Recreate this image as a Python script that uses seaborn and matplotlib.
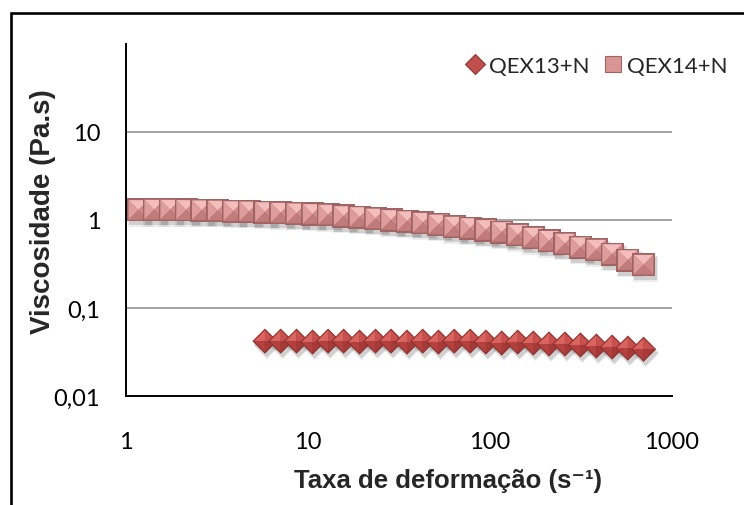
import matplotlib
matplotlib.use("Agg")
import numpy as np
import pandas as pd
import matplotlib.pyplot as plt
from matplotlib.path import Path
from matplotlib.lines import Line2D
from matplotlib.patches import Rectangle
from matplotlib.transforms import offset_copy
from matplotlib.ticker import FixedLocator, FixedFormatter, NullLocator
import seaborn as sns

# Shear rate (1/s) for each measurement step
shear_rate = [1.17, 1.43, 1.75, 2.14, 2.61, 3.19, 3.89, 4.75, 5.80, 7.08,
              8.65, 10.6, 12.9, 15.7, 19.2, 23.5, 28.6, 35.0, 42.7, 52.1,
              63.6, 77.8, 94.9, 116, 142, 173, 211, 258, 314, 384,
              469, 572, 698]

# Viscosity (Pa.s)
visc_qex14 = [1.30, 1.31, 1.31, 1.30, 1.29, 1.28, 1.26, 1.25, 1.23, 1.21,
              1.19, 1.17, 1.15, 1.11, 1.08, 1.04, 1.00, 0.97, 0.93, 0.89,
              0.84, 0.81, 0.77, 0.73, 0.68, 0.63, 0.58, 0.54, 0.49, 0.46,
              0.41, 0.35, 0.31]

shear_rate_qex13 = shear_rate[8:]
visc_qex13 = [0.042, 0.042, 0.042, 0.041, 0.042, 0.042, 0.041, 0.042, 0.042,
              0.041, 0.042, 0.041, 0.042, 0.042, 0.041, 0.040, 0.041, 0.040,
              0.039, 0.039, 0.038, 0.037, 0.036, 0.035, 0.034]

series_names = ["QEX13+N", "QEX14+N"]
x_ticks = [1, 10, 100, 1000]
x_tick_labels = ["1", "10", "100", "1000"]
y_ticks = [0.01, 0.1, 1, 10]
y_tick_labels = ["0,01", "0,1", "1", "10"]

df13 = pd.DataFrame({"rate": shear_rate_qex13, "visc": visc_qex13})
df14 = pd.DataFrame({"rate": shear_rate, "visc": visc_qex14})

sns.set_theme(style="white")
plt.rcParams["font.family"] = ["Lato", "DejaVu Sans"]

W, H = 744, 506
fig = plt.figure(figsize=(W / 100, H / 100), dpi=100)
fig.patch.set_facecolor("white")
ax = fig.add_axes([126 / W, 1 - 397 / H, 546 / W, 352 / H])
ax.set_xscale("log")
ax.set_yscale("log")
ax.set_xlim(1, 1000)
ax.set_ylim(0.01, 100)

# Marker geometry: flat outline plus four pyramid facets
def closed(verts):
    return Path(list(verts) + [verts[0]], closed=True)

square = closed([(-1, -1), (1, -1), (1, 1), (-1, 1)])
sq_facets = [closed([(-1, 1), (1, 1), (0, 0)]),      # top
             closed([(-1, -1), (-1, 1), (0, 0)]),    # left
             closed([(1, -1), (1, 1), (0, 0)]),      # right
             closed([(-1, -1), (1, -1), (0, 0)])]    # bottom
sq_shades = ["#F3BDBC", "#DE9C9B", "#CF8A89", "#C17B7A"]

diamond = closed([(1, 0), (0, 1), (-1, 0), (0, -1)])
dm_facets = [closed([(-1, 0), (0, 1), (0, 0)]),      # upper left
             closed([(0, 1), (1, 0), (0, 0)]),       # upper right
             closed([(-1, 0), (0, -1), (0, 0)]),     # lower left
             closed([(0, -1), (1, 0), (0, 0)])]      # lower right
dm_shades = ["#DA6560", "#C9504C", "#B4413E", "#A53A38"]


def draw_shadow(frame, path, size):
    for dx, dy, grow, a in [(2, -4, 1.25, 0.07), (2, -4, 1.0, 0.12)]:
        sns.scatterplot(data=frame, x="rate", y="visc", ax=ax, marker=path,
                        s=size * grow, color="black", alpha=a,
                        edgecolor="none", linewidth=0, legend=False, zorder=2,
                        transform=offset_copy(ax.transData, fig=fig, x=dx, y=dy,
                                              units="dots"))


def draw_pyramids(frame, base, facets, shades, edge, size, z0):
    side = np.sqrt(size)
    inner = (side - 2.4) ** 2
    for i in range(len(frame)):
        one = frame.iloc[[i]]
        z = z0 + i * 0.01
        sns.scatterplot(data=one, x="rate", y="visc", ax=ax, marker=base,
                        s=size, color=edge, edgecolor="none", linewidth=0,
                        legend=False, zorder=z)
        for path, col in zip(facets, shades):
            sns.scatterplot(data=one, x="rate", y="visc", ax=ax, marker=path,
                            s=inner, color=col, edgecolor="none", linewidth=0,
                            legend=False, zorder=z + 0.001)


SQ_SIZE = 275
DM_SIZE = 330
draw_shadow(df13, diamond, DM_SIZE)
draw_shadow(df14, square, SQ_SIZE)
draw_pyramids(df13, diamond, dm_facets, dm_shades, "#8E3230", DM_SIZE, 3)
draw_pyramids(df14, square, sq_facets, sq_shades, "#A06464", SQ_SIZE, 4)

ax.set_xlim(1, 1000)
ax.set_ylim(0.01, 100)

# Axes, ticks and grid
ax.xaxis.set_major_locator(FixedLocator(x_ticks))
ax.xaxis.set_major_formatter(FixedFormatter(x_tick_labels))
ax.yaxis.set_major_locator(FixedLocator(y_ticks))
ax.yaxis.set_major_formatter(FixedFormatter(y_tick_labels))
ax.xaxis.set_minor_locator(NullLocator())
ax.yaxis.set_minor_locator(NullLocator())
ax.tick_params(axis="both", which="major", direction="out", length=5.5,
               width=1.2, color="black", labelsize=17, labelcolor="black")
ax.tick_params(axis="y", pad=13)
ax.tick_params(axis="x", pad=20)
ax.set_axisbelow(True)
ax.yaxis.grid(True, color="#8A8A8A", linewidth=1.1)
ax.xaxis.grid(False)
for side in ("top", "right"):
    ax.spines[side].set_visible(False)
for side in ("left", "bottom"):
    ax.spines[side].set_color("black")
    ax.spines[side].set_linewidth(1.4)

label_font = ["Liberation Sans", "DejaVu Sans"]
ax.set_xlabel("Taxa de deformação (s\u207b\u00b9)", family=label_font,
              fontweight="bold", fontsize=18.5)
ax.set_ylabel("Viscosidade (Pa.s)", family=label_font,
              fontweight="bold", fontsize=20)
ax.xaxis.set_label_coords(0.59, -0.205)
ax.yaxis.set_label_coords(-0.128, 0.5256)

# Legend
handles = [
    Line2D([], [], linestyle="none", marker="D", markersize=10,
           markerfacecolor="#C0504D", markeredgecolor="#8E3230",
           markeredgewidth=0.8),
    Line2D([], [], linestyle="none", marker="s", markersize=12,
           markerfacecolor="#D99594", markeredgecolor="#A06464",
           markeredgewidth=0.8),
]
ax.legend(handles, series_names, ncol=2, frameon=False, fontsize=16,
          loc="center right", bbox_to_anchor=(728 / W, 1 - 67 / H),
          bbox_transform=fig.transFigure, handletextpad=0.15,
          columnspacing=0.55, handlelength=1.0, borderaxespad=0,
          borderpad=0)

# Chart-area frame
fig.add_artist(Rectangle((11 / W, -0.2), 1.2, 1.2 - 14 / H,
                         transform=fig.transFigure, fill=False,
                         edgecolor="black", linewidth=1.9, clip_on=False))

fig.savefig("out.png", dpi=100, facecolor="white")
